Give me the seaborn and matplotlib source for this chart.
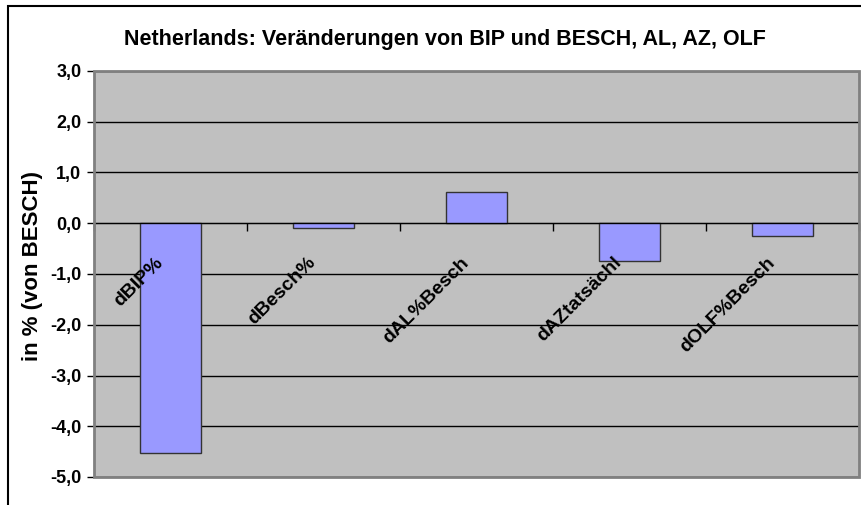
import matplotlib
matplotlib.use("Agg")
import matplotlib.pyplot as plt
import matplotlib.transforms as mtransforms
from matplotlib.patches import Rectangle
from matplotlib.ticker import FuncFormatter, FixedLocator
import seaborn as sns
import pandas as pd

# chart data
categories = ["dBIP%", "dBesch%", "dAL%Besch", "dAZtatsächl", "dOLF%Besch"]
values = [-4.52, -0.10, 0.62, -0.74, -0.26]
y_ticks = [3, 2, 1, 0, -1, -2, -3, -4, -5]

title = "Netherlands: Veränderungen von BIP und BESCH, AL, AZ, OLF"
y_label = "in % (von BESCH)"

sns.set_style("white")
plt.rcParams['font.family'] = ['Liberation Sans', 'DejaVu Sans']
plt.rcParams['font.weight'] = 'bold'
plt.rcParams['text.color'] = 'black'
plt.rcParams['axes.labelcolor'] = 'black'
plt.rcParams['ytick.color'] = 'black'
plt.rcParams['xtick.color'] = 'black'

df = pd.DataFrame({"kategorie": categories, "wert": values})

fig = plt.figure(figsize=(8.62, 5.05), dpi=100)
W, H = 862, 505
ax = fig.add_axes([94 / W, 1 - 477 / H, (859 - 94) / W, (477 - 71) / H])
ax.set_facecolor("#C0C0C0")

sns.barplot(data=df, x="kategorie", y="wert", color="#9999FF", saturation=1,
            edgecolor="#333333", linewidth=1, width=0.4, ax=ax, zorder=3)

ax.set_ylim(-5, 3)
ax.set_xlim(-0.5, len(categories) - 0.5)
ax.yaxis.set_major_locator(FixedLocator(y_ticks))
ax.yaxis.set_major_formatter(FuncFormatter(lambda v, p: f"{v:.1f}".replace(".", ",")))
ax.tick_params(axis="y", direction="out", length=5, width=1, color="black",
               labelsize=13, pad=4, left=True, labelcolor="black")
for lbl in ax.get_yticklabels():
    lbl.set_fontweight("bold")

# black gridlines
for yv in y_ticks:
    ax.axhline(yv, color="black", lw=1, zorder=1)

# category axis crossing at zero, ticks at category boundaries
ax.spines["bottom"].set_position(("data", 0))
ax.spines["bottom"].set_color("black")
ax.spines["bottom"].set_zorder(4)
ax.set_xticks([i - 0.5 for i in range(len(categories) + 1)])
ax.set_xticklabels([])
ax.tick_params(axis="x", direction="out", length=6, width=1, color="black", bottom=True)
for s in ["top", "right", "left"]:
    ax.spines[s].set_visible(False)
ax.add_patch(Rectangle((0, 0), 1, 1, transform=ax.transAxes, fill=False,
                       edgecolor="#808080", lw=2, zorder=5, clip_on=False))

# rotated category labels below the zero line
trans = mtransforms.offset_copy(ax.transData, fig=fig, x=-4, y=-31, units="dots")
for i, cat in enumerate(categories):
    ax.text(i, 0, cat, rotation=45, ha="right", va="top", fontsize=14,
            fontweight="bold", color="black", transform=trans, zorder=6)

ax.set_xlabel("")
ax.set_ylabel(y_label, fontsize=16, fontweight="bold", color="black")
ax.yaxis.set_label_coords((43 - 94) / 765, (477 - 266) / 406)

fig.text(445 / W, 1 - 40 / H, title, ha="center", va="center", fontsize=15.5,
         fontweight="bold", color="black")

# outer chart frame (cut off at right/bottom)
fig.patches.append(Rectangle((8 / W, -0.2), 2, 1.2 - 6 / H, transform=fig.transFigure,
                             fill=False, edgecolor="black", lw=1.5))

fig.savefig("out.png", dpi=100)
